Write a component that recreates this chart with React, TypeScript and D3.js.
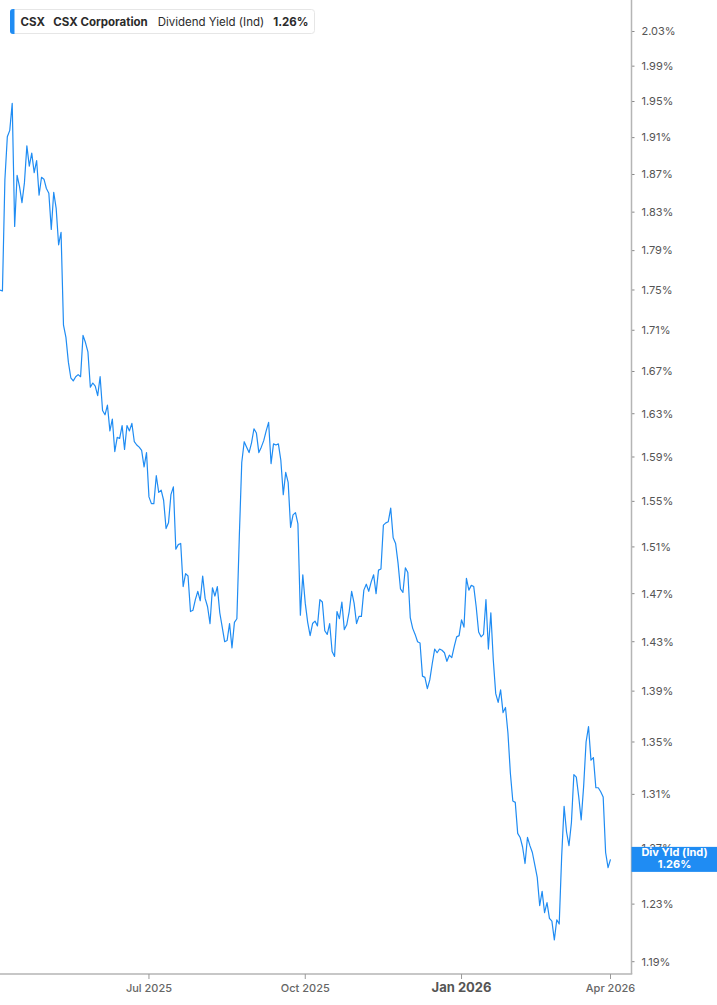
import * as d3 from "d3";

// Trading calendar (NYSE sessions) covered by the chart
const firstSession = "2025-04-02";
const lastSession = "2026-04-01";
const marketHolidays = [
  "2025-04-18", "2025-05-26", "2025-06-19", "2025-07-04", "2025-09-01",
  "2025-11-27", "2025-12-25", "2026-01-01", "2026-01-19", "2026-02-16",
];

// Daily dividend yield (%), one value per session
const divYield = [
  1.750, 1.749, 1.864, 1.911, 1.918, 1.948, 1.815, 1.869, 1.857, 1.840,
  1.861, 1.901, 1.879, 1.893, 1.872, 1.885, 1.848, 1.867, 1.865, 1.855,
  1.850, 1.812, 1.851, 1.834, 1.796, 1.809, 1.715, 1.703, 1.679, 1.664,
  1.661, 1.665, 1.667, 1.665, 1.705, 1.698, 1.689, 1.655, 1.659, 1.656,
  1.647, 1.665, 1.633, 1.629, 1.638, 1.614, 1.625, 1.595, 1.608, 1.607,
  1.619, 1.597, 1.619, 1.614, 1.621, 1.604, 1.601, 1.599, 1.596, 1.581,
  1.594, 1.554, 1.548, 1.548, 1.573, 1.558, 1.560, 1.551, 1.526, 1.531,
  1.556, 1.563, 1.508, 1.512, 1.513, 1.476, 1.487, 1.485, 1.455, 1.456,
  1.465, 1.472, 1.464, 1.485, 1.466, 1.459, 1.445, 1.475, 1.468, 1.476,
  1.454, 1.442, 1.430, 1.431, 1.445, 1.425, 1.446, 1.449, 1.519, 1.585,
  1.604, 1.599, 1.594, 1.603, 1.616, 1.612, 1.594, 1.599, 1.605, 1.614,
  1.622, 1.584, 1.602, 1.601, 1.602, 1.587, 1.556, 1.576, 1.567, 1.527,
  1.538, 1.540, 1.530, 1.452, 1.486, 1.462, 1.446, 1.435, 1.445, 1.447,
  1.443, 1.465, 1.463, 1.439, 1.436, 1.445, 1.422, 1.418, 1.455, 1.449,
  1.463, 1.440, 1.444, 1.455, 1.472, 1.462, 1.445, 1.451, 1.451, 1.473,
  1.478, 1.472, 1.480, 1.486, 1.470, 1.490, 1.491, 1.529, 1.531, 1.532,
  1.544, 1.518, 1.513, 1.496, 1.474, 1.471, 1.492, 1.488, 1.450, 1.441,
  1.436, 1.430, 1.429, 1.402, 1.401, 1.392, 1.399, 1.412, 1.424, 1.421,
  1.424, 1.423, 1.421, 1.414, 1.419, 1.417, 1.426, 1.434, 1.435, 1.448,
  1.442, 1.483, 1.473, 1.477, 1.476, 1.459, 1.438, 1.434, 1.436, 1.465,
  1.424, 1.454, 1.415, 1.388, 1.381, 1.391, 1.373, 1.377, 1.357, 1.326,
  1.305, 1.304, 1.281, 1.278, 1.271, 1.259, 1.278, 1.272, 1.267, 1.258,
  1.249, 1.229, 1.239, 1.224, 1.231, 1.220, 1.218, 1.205, 1.219, 1.216,
  1.264, 1.301, 1.282, 1.272, 1.289, 1.325, 1.323, 1.308, 1.291, 1.316,
  1.350, 1.362, 1.336, 1.338, 1.315, 1.315, 1.312, 1.308, 1.267, 1.256,
  1.262,
];

const yTicks = [
  2.03, 1.99, 1.95, 1.91, 1.87, 1.83, 1.79, 1.75, 1.71, 1.67, 1.63,
  1.59, 1.55, 1.51, 1.47, 1.43, 1.39, 1.35, 1.31, 1.27, 1.23, 1.19,
];
const xTickMonths = ["2025-07", "2025-10", "2026-01", "2026-04"];
const xTickLabels = ["Jul 2025", "Oct 2025", "Jan 2026", "Apr 2026"];

const ticker = "CSX";
const company = "CSX Corporation";
const metric = "Dividend Yield (Ind)";
const shortMetric = "Div Yld (Ind)";

const W = 717;
const H = 1005;
const FONT = "Inter, Roboto, 'Noto Sans', sans-serif";
const BLUE = "#1f8cf3";

export default function App() {
  const fmt = d3.utcFormat("%Y-%m-%d");
  const holidaySet = new Set(marketHolidays);
  const sessions = d3.utcDay
    .range(new Date(firstSession), d3.utcDay.offset(new Date(lastSession), 1))
    .filter((d) => d.getUTCDay() !== 0 && d.getUTCDay() !== 6)
    .map((d) => fmt(d))
    .filter((s) => !holidaySet.has(s));

  const n = Math.min(sessions.length, divYield.length);
  const data = sessions.slice(0, n).map((s, i) => ({ date: s, v: divYield[i] }));

  const axisX = 631.5;
  const axisY = 974;

  const x = d3
    .scalePoint<string>()
    .domain(data.map((d) => d.date))
    .range([0, 610.5]);

  const y = d3.scaleLog().domain([1.19, 2.03]).range([961.7, 31.5]);

  const line = d3
    .line<{ date: string; v: number }>()
    .x((d) => x(d.date) ?? 0)
    .y((d) => y(d.v));

  const xTicks = xTickMonths.map((m, i) => {
    const first = data.find((d) => d.date.startsWith(m));
    return { label: xTickLabels[i], pos: first ? x(first.date) ?? 0 : 0, isYear: m.endsWith("-01") };
  });

  const last = data[data.length - 1];
  const lastY = y(last.v);

  return (
    <div style={{ position: "absolute", left: 0, top: 0 }}>
      <svg width={W} height={H} style={{ display: "block", background: "#fff" }} fontFamily={FONT}>
        {/* y axis labels */}
        {yTicks.map((t) => (
          <g key={t} transform={`translate(${axisX},${y(t)})`}>
            <line x1={0} x2={3} stroke="#888" strokeWidth={1} />
            <text x={10} dy="0.35em" fontSize={11} fill="#555">
              {t.toFixed(2)}%
            </text>
          </g>
        ))}

        {/* series */}
        <path d={line(data) ?? ""} fill="none" stroke={BLUE} strokeWidth={1.2} strokeLinejoin="round" />

        {/* axes */}
        <line x1={axisX} x2={axisX} y1={0} y2={axisY} stroke="#b5b5b5" strokeWidth={1.5} />
        <line x1={0} x2={axisX + 0.75} y1={axisY} y2={axisY} stroke="#b5b5b5" strokeWidth={1.5} />
        {xTicks.map((t) => (
          <g key={t.label} transform={`translate(${t.pos},${axisY})`}>
            <line y1={0} y2={5} stroke="#999" strokeWidth={1} />
            <text
              y={18}
              textAnchor="middle"
              fontSize={t.isYear ? 13 : 11}
              fontWeight={t.isYear ? 700 : 500}
              fill={t.isYear ? "#555" : "#666"}
            >
              {t.label}
            </text>
          </g>
        ))}

        {/* last value tag */}
        <g transform={`translate(${axisX},${lastY})`}>
          <rect x={0} y={-12.5} width={W - axisX} height={25} fill={BLUE} />
          <text x={43} y={-3} textAnchor="middle" fontSize={11} fontWeight={700} fill="#fff">
            {shortMetric}
          </text>
          <text x={43} y={9} textAnchor="middle" fontSize={11} fontWeight={700} fill="#fff">
            {last.v.toFixed(2)}%
          </text>
        </g>

        {/* legend */}
        <g>
          <rect x={10.5} y={9.5} width={304} height={24} rx={3} fill="#fff" stroke="#e6e6e6" />
          <path d="M13,9 h1.5 v25 h-1.5 a3,3 0 0 1 -3,-3 v-19 a3,3 0 0 1 3,-3 z" fill={BLUE} />
          <text y={25.5} fontSize={11.5} fill="#2b2b2b">
            <tspan x={20.5} fontWeight={700}>{ticker}</tspan>
            <tspan x={53.3} fontWeight={700}>{company}</tspan>
            <tspan x={157.7} fontWeight={400}>{metric}</tspan>
            <tspan x={273.3} fontWeight={700}>{last.v.toFixed(2)}%</tspan>
          </text>
        </g>
      </svg>
    </div>
  );
}
